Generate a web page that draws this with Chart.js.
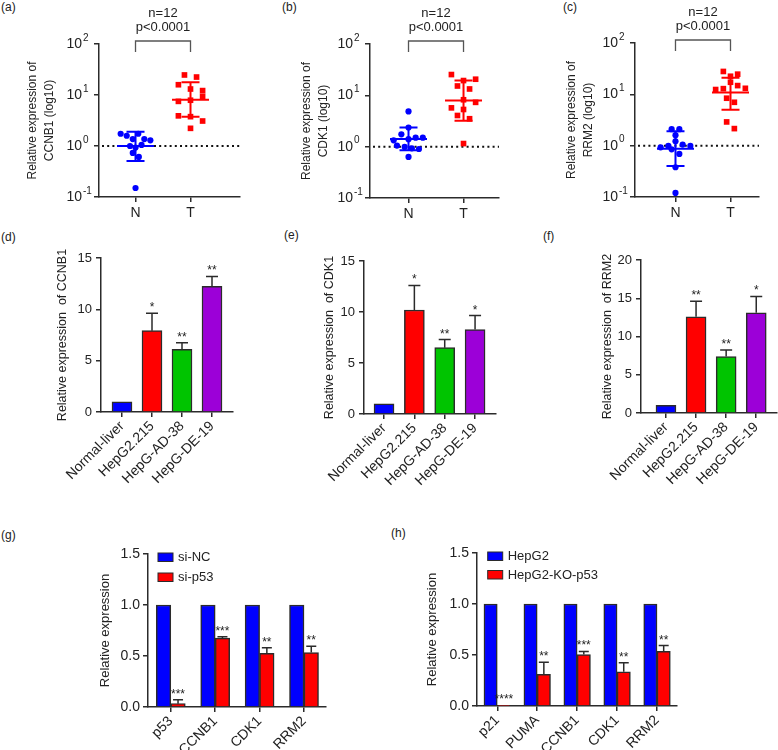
<!DOCTYPE html>
<html>
<head>
<meta charset="utf-8">
<script src="https://cdn.jsdelivr.net/npm/chart.js@4.4.0/dist/chart.umd.min.js"></script>
<style>
  body { margin: 0; background: #fff; width: 778px; height: 750px; position: relative; overflow: hidden;
         font-family: 'Liberation Sans', Arial, sans-serif; }
  canvas { position: absolute; }
  .lbl { position: absolute; font-size: 12px; color: #222; line-height: 14px; }
</style>
</head>
<body>
<div class="lbl" style="left:1px;top:0px">(a)</div>
<div class="lbl" style="left:282px;top:0px">(b)</div>
<div class="lbl" style="left:563px;top:0px">(c)</div>
<div class="lbl" style="left:1px;top:230px">(d)</div>
<div class="lbl" style="left:284px;top:228px">(e)</div>
<div class="lbl" style="left:543px;top:229px">(f)</div>
<div class="lbl" style="left:1px;top:528px">(g)</div>
<div class="lbl" style="left:391px;top:526px">(h)</div>

<canvas id="ca" width="260" height="235" style="left:0;top:0"></canvas>
<canvas id="cb" width="258" height="235" style="left:260px;top:0"></canvas>
<canvas id="cc" width="260" height="235" style="left:518px;top:0"></canvas>
<canvas id="cd" width="260" height="250" style="left:0;top:240px"></canvas>
<canvas id="ce" width="258" height="250" style="left:260px;top:240px"></canvas>
<canvas id="cf" width="260" height="250" style="left:518px;top:240px"></canvas>
<canvas id="cg" width="390" height="260" style="left:0;top:490px"></canvas>
<canvas id="ch" width="388" height="260" style="left:390px;top:490px"></canvas>

<script>
'use strict';

// ---- tissue samples (a-c), N = normal, T = tumour ----
const groups = ['N', 'T'];
const logTicks = [0.1, 1, 10, 100];
const logBase = '10';
const logExponents = ['-1', '0', '1', '2'];
const tissueN = 'n=12';
const tissueP = 'p<0.0001';

const ccnb1N = [1.74, 1.59, 1.74, 1.37, 1.37, 1.29, 1.0, 0.93, 1.05, 0.73, 0.61, 0.15];
const ccnb1NJit = [-0.27, -0.16, 0.05, -0.05, 0.16, 0.27, -0.10, 0, 0.11, -0.05, 0.06, 0];
const ccnb1T = [24.7, 22.5, 15.9, 13.1, 12.2, 9.4, 7.5, 7.9, 3.9, 3.76, 3.09, 2.22];
const ccnb1TJit = [-0.11, 0.11, -0.22, 0, 0.22, 0.22, -0.22, 0, -0.22, 0, 0.22, 0];
const ccnb1Mean = [1.0, 8.1];
const ccnb1Low = [0.51, 3.76];
const ccnb1High = [1.91, 17.7];

const cdk1N = [4.86, 2.36, 1.74, 1.5, 1.5, 1.33, 1.4, 1.05, 0.99, 0.93, 0.90, 0.63];
const cdk1NJit = [0, 0, -0.13, 0.13, 0.26, -0.27, 0, -0.21, -0.07, 0.06, 0.19, 0];
const cdk1T = [25.4, 19.4, 20.6, 15.2, 13.3, 7.3, 8.2, 5.7, 5.3, 4.05, 3.5, 1.15];
const cdk1TJit = [-0.22, 0, 0.22, -0.11, 0.11, 0.22, 0, -0.22, 0, -0.11, 0.11, 0];
const cdk1Mean = [1.41, 7.9];
const cdk1Low = [0.85, 3.19];
const cdk1High = [2.36, 19.4];

const rrm2N = [2.1, 2.1, 1.6, 1.22, 0.93, 0.99, 0.85, 1.05, 0.99, 0.69, 0.38, 0.12];
const rrm2NJit = [-0.07, 0.07, 0, 0, -0.27, -0.13, -0.07, 0.13, 0.27, 0.07, 0, 0];
const rrm2T = [27.9, 22.5, 24.7, 17.2, 14.8, 12.4, 12.9, 13.1, 8.4, 7.0, 2.9, 2.15];
const rrm2TJit = [-0.13, 0, 0.13, 0, 0.13, -0.27, -0.13, 0.27, -0.07, 0.07, -0.07, 0.07];
const rrm2Mean = [0.87, 10.9];
const rrm2Low = [0.40, 5.0];
const rrm2High = [1.91, 21];

// ---- cell lines (d-f) ----
const cellLines = ['Normal-liver', 'HepG2.215', 'HepG-AD-38', 'HepG-DE-19'];
const ccnb1Cells = [1, 7.92, 6.1, 12.23];
const ccnb1CellsErr = [null, 9.62, 6.75, 13.2];
const ccnb1CellsSig = ['', '*', '**', '**'];
const cdk1Cells = [1, 10.2, 6.5, 8.28];
const cdk1CellsErr = [null, 12.6, 7.3, 9.65];
const cdk1CellsSig = ['', '*', '**', '*'];
const rrm2Cells = [1, 12.57, 7.38, 13.1];
const rrm2CellsErr = [null, 14.6, 8.25, 15.24];
const rrm2CellsSig = ['', '**', '**', '*'];

// ---- p53 knock-down / knock-out (g, h) ----
const siGenes = ['p53', 'CCNB1', 'CDK1', 'RRM2'];
const siNC = [1, 1, 1, 1];
const siP53 = [0.033, 0.675, 0.527, 0.534];
const siP53Err = [0.072, 0.688, 0.58, 0.596];
const siP53Sig = ['***', '***', '**', '**'];

const koGenes = ['p21', 'PUMA', 'CCNB1', 'CDK1', 'RRM2'];
const koWT = [1, 1, 1, 1, 1];
const koP53 = [0.005, 0.31, 0.505, 0.336, 0.535];
const koP53Err = [null, 0.43, 0.535, 0.424, 0.593];
const koP53Sig = ['****', '**', '***', '**', '**'];

const FONT = "'Liberation Sans', Arial, Helvetica, sans-serif";
const INK = '#2b2b2b';
const BLUE = '#0000ff';
const RED = '#ff0000';
const GREEN = '#00c400';
const PURPLE = '#9c00d8';

Chart.defaults.font.family = FONT;
Chart.defaults.color = '#222';

function axis(extra) {
    return Object.assign({
        offset: false,
        border: { display: true, color: INK, width: 1.5 },
        grid: { display: true, offset: false, drawOnChartArea: false, drawTicks: true, tickLength: 5, color: INK, lineWidth: 1.5 }
    }, extra);
}

const tissueMarks = {
    id: 'tissueMarks',
    beforeDatasetsDraw(chart) {
        const { ctx, chartArea: a, scales: { y } } = chart;
        const y1 = y.getPixelForValue(1);
        ctx.save();
        ctx.strokeStyle = '#111';
        ctx.lineWidth = 2;
        ctx.setLineDash([2, 3.2]);
        ctx.beginPath();
        ctx.moveTo(a.left + 3, y1);
        ctx.lineTo(a.right, y1);
        ctx.stroke();
        ctx.restore();
    },
    afterDatasetsDraw(chart, args, o) {
        const { ctx, chartArea: a, scales: { x, y } } = chart;
        ctx.save();
        ctx.lineWidth = 2;
        o.mean.forEach((m, i) => {
            const cx = x.getPixelForValue(i + 1);
            const ym = y.getPixelForValue(m);
            const yl = y.getPixelForValue(o.low[i]);
            const yh = y.getPixelForValue(o.high[i]);
            ctx.strokeStyle = chart.data.datasets[i].borderColor;
            ctx.beginPath();
            ctx.moveTo(cx - 18.5, ym); ctx.lineTo(cx + 18.5, ym);
            ctx.moveTo(cx, yh); ctx.lineTo(cx, yl);
            ctx.moveTo(cx - 9, yh); ctx.lineTo(cx + 9, yh);
            ctx.moveTo(cx - 9, yl); ctx.lineTo(cx + 9, yl);
            ctx.stroke();
        });
        // significance bracket
        const xn = x.getPixelForValue(1), xt = x.getPixelForValue(2);
        const top = a.top - 3;
        ctx.strokeStyle = '#555';
        ctx.lineWidth = 1.3;
        ctx.beginPath();
        ctx.moveTo(xn, top + 11); ctx.lineTo(xn, top); ctx.lineTo(xt, top); ctx.lineTo(xt, top + 11);
        ctx.stroke();
        ctx.fillStyle = '#222';
        ctx.font = '13px ' + FONT;
        ctx.textAlign = 'center';
        ctx.textBaseline = 'middle';
        ctx.fillText(tissueN, (xn + xt) / 2, a.top - 31);
        ctx.fillText(tissueP, (xn + xt) / 2, a.top - 17);
        ctx.restore();
    },
    afterDraw(chart) {
        // exponents of the decade labels
        const { ctx, scales: { y } } = chart;
        ctx.save();
        ctx.font = '10px ' + FONT;
        ctx.fillStyle = '#222';
        ctx.textAlign = 'left';
        ctx.textBaseline = 'middle';
        y.ticks.forEach((t, i) => {
            ctx.fillText(logExponents[i], y.right - 16, y.getPixelForValue(t.value) - 6);
        });
        ctx.restore();
    }
};

const barMarks = {
    id: 'barMarks',
    afterDatasetsDraw(chart, args, o) {
        const { ctx, chartArea: a, scales: { y } } = chart;
        const meta = chart.getDatasetMeta(o.dataset);
        ctx.save();
        ctx.strokeStyle = INK;
        ctx.lineWidth = 1.5;
        ctx.fillStyle = '#222';
        ctx.font = '12px ' + FONT;
        ctx.textAlign = 'center';
        ctx.textBaseline = 'alphabetic';
        meta.data.forEach((bar, i) => {
            let top = bar.y;
            const e = o.err[i];
            if (e != null) {
                const ey = y.getPixelForValue(e);
                ctx.beginPath();
                ctx.moveTo(bar.x, bar.y); ctx.lineTo(bar.x, ey);
                ctx.moveTo(bar.x - o.cap, ey); ctx.lineTo(bar.x + o.cap, ey);
                ctx.stroke();
                top = ey;
            }
            if (o.sig[i]) ctx.fillText(o.sig[i], bar.x, top - 2);
        });
        if (o.legend) {
            const L = o.legend;
            chart.data.datasets.forEach((ds, k) => {
                const bx = a.left + L.dx, by = a.top + L.dy + k * L.gap;
                ctx.fillStyle = ds.backgroundColor;
                ctx.fillRect(bx, by, 15, 8.5);
                ctx.lineWidth = 1;
                ctx.strokeRect(bx, by, 15, 8.5);
                ctx.fillStyle = '#222';
                ctx.font = '13px ' + FONT;
                ctx.textAlign = 'left';
                ctx.textBaseline = 'middle';
                ctx.fillText(ds.label, bx + 20, by + 4.5);
            });
        }
        ctx.restore();
    }
};

function tissueChart(id, title, nVals, nJit, tVals, tJit, mean, low, high, box) {
    new Chart(document.getElementById(id), {
        type: 'scatter',
        data: {
            datasets: [
                { label: groups[0], data: nVals.map((v, i) => ({ x: 1 + nJit[i], y: v })),
                  backgroundColor: BLUE, borderColor: BLUE, pointRadius: 3.1, pointBorderWidth: 0, pointStyle: 'circle' },
                { label: groups[1], data: tVals.map((v, i) => ({ x: 2 + tJit[i], y: v })),
                  backgroundColor: RED, borderColor: RED, pointRadius: 4, pointBorderWidth: 0, pointStyle: 'rect' }
            ]
        },
        options: {
            responsive: false,
            animation: false,
            layout: { padding: { top: box.t, right: box.r, left: 0, bottom: 0 } },
            plugins: { legend: { display: false }, tooltip: { enabled: false },
                       tissueMarks: { mean: mean, low: low, high: high } },
            scales: {
                x: axis({
                    type: 'linear', min: box.xMin, max: box.xMax,
                    afterBuildTicks: s => { s.ticks = groups.map((g, i) => ({ value: i + 1 })); },
                    afterFit: s => { s.height = box.h; s.paddingLeft = 0; s.paddingRight = 0; },
                    ticks: { font: { size: 14 }, padding: 3, color: '#222', callback: (v, i) => groups[i] }
                }),
                y: axis({
                    type: 'logarithmic', min: 0.1, max: 100,
                    afterBuildTicks: s => { s.ticks = logTicks.map(v => ({ value: v })); },
                    afterFit: s => { s.width = box.w; s.paddingTop = 0; s.paddingBottom = 0; },
                    ticks: { font: { size: 14 }, padding: 12, color: '#222', callback: () => logBase },
                    title: { display: true, text: title, color: '#222',
                             font: { size: 12, lineHeight: 1.42 }, padding: { top: box.tp, bottom: 0 } }
                })
            }
        },
        plugins: [tissueMarks]
    });
}

function cellChart(id, title, vals, errs, sig, yMax, box) {
    new Chart(document.getElementById(id), {
        type: 'bar',
        data: {
            datasets: [{
                data: vals.map((v, i) => ({ x: i, y: v })),
                backgroundColor: [BLUE, RED, GREEN, PURPLE],
                borderColor: INK, borderWidth: 1.5, barThickness: 20
            }]
        },
        options: {
            responsive: false,
            animation: false,
            layout: { padding: { top: box.t, right: box.r, left: 0, bottom: 0 } },
            plugins: { legend: { display: false }, tooltip: { enabled: false },
                       barMarks: { dataset: 0, err: errs, sig: sig, cap: 6 } },
            scales: {
                x: axis({
                    type: 'linear', min: box.xMin, max: box.xMax,
                    afterBuildTicks: s => { s.ticks = cellLines.map((c, i) => ({ value: i })); },
                    afterFit: s => { s.height = box.h; s.paddingLeft = 0; s.paddingRight = 0; },
                    ticks: { font: { size: 14 }, padding: 1, color: '#222', minRotation: 45, maxRotation: 45,
                             autoSkip: false, callback: (v, i) => cellLines[i] }
                }),
                y: axis({
                    type: 'linear', min: 0, max: yMax,
                    afterFit: s => { s.width = box.w; s.paddingTop = 0; s.paddingBottom = 0; },
                    ticks: { stepSize: 5, font: { size: 13 }, padding: 4, color: '#222' },
                    title: { display: true, text: title, color: '#222',
                             font: { size: 12.5, lineHeight: 1.2 }, padding: { top: box.tp, bottom: 0 } }
                })
            }
        },
        plugins: [barMarks]
    });
}

function p53Chart(id, genes, names, ctrl, treated, errs, sig, box) {
    new Chart(document.getElementById(id), {
        type: 'bar',
        data: {
            datasets: [
                { label: names[0], data: ctrl.map((v, i) => ({ x: i, y: v })),
                  backgroundColor: BLUE, borderColor: INK, borderWidth: 1.5, barThickness: box.bar },
                { label: names[1], data: treated.map((v, i) => ({ x: i, y: v })),
                  backgroundColor: RED, borderColor: INK, borderWidth: 1.5, barThickness: box.bar }
            ]
        },
        options: {
            responsive: false,
            animation: false,
            layout: { padding: { top: box.t, right: box.r, left: 0, bottom: 0 } },
            plugins: { legend: { display: false }, tooltip: { enabled: false },
                       barMarks: { dataset: 1, err: errs, sig: sig, cap: 5, legend: box.legend } },
            scales: {
                x: axis({
                    type: 'linear', min: box.xMin, max: box.xMax,
                    afterBuildTicks: s => { s.ticks = genes.map((g, i) => ({ value: i })); },
                    afterFit: s => { s.height = box.h; s.paddingLeft = 0; s.paddingRight = 0; },
                    ticks: { font: { size: 14 }, padding: 1, color: '#222', minRotation: 45, maxRotation: 45,
                             autoSkip: false, callback: (v, i) => genes[i] }
                }),
                y: axis({
                    type: 'linear', min: 0, max: 1.5,
                    afterFit: s => { s.width = box.w; s.paddingTop = 0; s.paddingBottom = 0; },
                    ticks: { stepSize: 0.5, font: { size: 14 }, padding: 3, color: '#222', callback: v => v.toFixed(1) },
                    title: { display: true, text: 'Relative expression', color: '#222',
                             font: { size: 13, lineHeight: 1.2 }, padding: { top: box.tp, bottom: 0 } }
                })
            }
        },
        plugins: [barMarks]
    });
}

tissueChart('ca', ['Relative expression of', 'CCNB1 (log10)'], ccnb1N, ccnb1NJit, ccnb1T, ccnb1TJit,
    ccnb1Mean, ccnb1Low, ccnb1High, { w: 99, t: 44, r: 20, h: 38, xMin: 0.336, xMax: 2.9, tp: 24.5 });
tissueChart('cb', ['Relative expression of', 'CDK1 (log10)'], cdk1N, cdk1NJit, cdk1T, cdk1TJit,
    cdk1Mean, cdk1Low, cdk1High, { w: 110, t: 44, r: 19, h: 37, xMin: 0.3, xMax: 2.645, tp: 38.2 });
tissueChart('cc', ['Relative expression of', 'RRM2 (log10)'], rrm2N, rrm2NJit, rrm2T, rrm2TJit,
    rrm2Mean, rrm2Low, rrm2High, { w: 117, t: 43, r: 19, h: 38, xMin: 0.264, xMax: 2.518, tp: 44.8 });

cellChart('cd', 'Relative expression  of CCNB1', ccnb1Cells, ccnb1CellsErr, ccnb1CellsSig, 15,
    { w: 101, t: 18, r: 27, h: 78, xMin: -0.7, xMax: 3.7, tp: 55.5 });
cellChart('ce', 'Relative expression  of CDK1', cdk1Cells, cdk1CellsErr, cdk1CellsSig, 15,
    { w: 104, t: 21, r: 22, h: 76, xMin: -0.66, xMax: 3.69, tp: 62.5 });
cellChart('cf', 'Relative expression  of RRM2', rrm2Cells, rrm2CellsErr, rrm2CellsSig, 20,
    { w: 123, t: 20, r: 1, h: 77, xMin: -0.83, xMax: 3.69, tp: 82.5 });

p53Chart('cg', siGenes, ['si-NC', 'si-p53'], siNC, siP53, siP53Err, siP53Sig,
    { w: 148, t: 64, r: 64, h: 43, xMin: -0.513, xMax: 3.495, tp: 97.2, bar: 14.5,
      legend: { dx: 10, dy: -1, gap: 20 } });
p53Chart('ch', koGenes, ['HepG2', 'HepG2-KO-p53'], koWT, koP53, koP53Err, koP53Sig,
    { w: 87, t: 63, r: 101, h: 44, xMin: -0.507, xMax: 4.5, tp: 35, bar: 13.3,
      legend: { dx: 10.7, dy: -1, gap: 18.5 } });
</script>
</body>
</html>
